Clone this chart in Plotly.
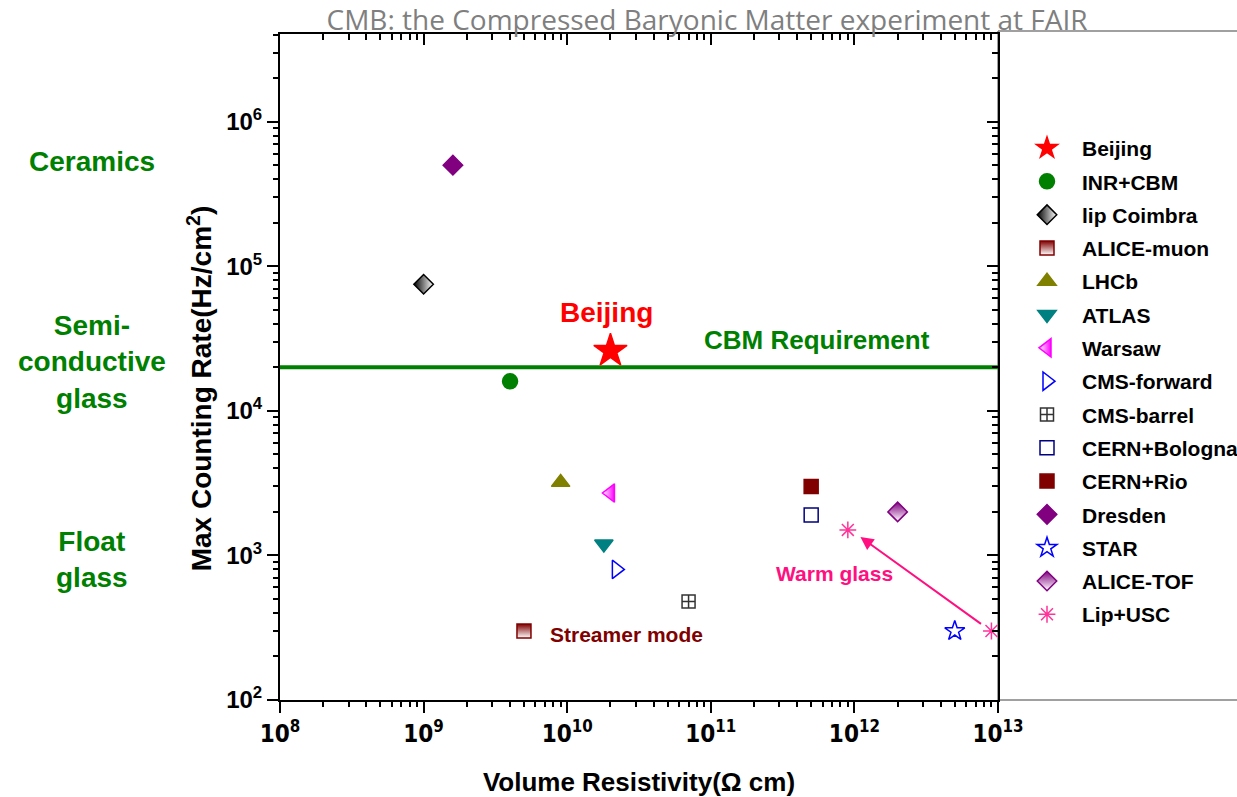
import math
import plotly.graph_objects as go

# ---------------- data ----------------
names = ["Beijing", "INR+CBM", "lip Coimbra", "ALICE-muon", "LHCb", "ATLAS", "Warsaw",
         "CMS-forward", "CMS-barrel", "CERN+Bologna", "CERN+Rio", "Dresden", "STAR",
         "ALICE-TOF", "Lip+USC"]
resistivity = [[2e10], [4e9], [1e9], [5e9], [9e9], [1.8e10], [2e10],
               [2.2e10], [7e10], [5e11], [5e11], [1.6e9], [5e12],
               [2e12], [9e11, 9e12]]
rate = [[2.6e4], [1.6e4], [7.5e4], [300], [3.2e3], [1.2e3], [2.7e3],
        [800], [480], [1.9e3], [3e3], [5e5], [300],
        [2e3], [1.5e3, 300]]

cbm_req_x = [1e8, 1e13]
cbm_req_y = [2e4, 2e4]

x_tickvals = [1e8, 1e9, 1e10, 1e11, 1e12, 1e13]
x_ticktext = ["10<sup>8</sup>", "10<sup>9</sup>", "10<sup>10</sup>", "10<sup>11</sup>",
              "10<sup>12</sup>", "10<sup>13</sup>"]
y_tickvals = [1e2, 1e3, 1e4, 1e5, 1e6]
y_ticktext = ["10<sup>2</sup>", "10<sup>3</sup>", "10<sup>4</sup>", "10<sup>5</sup>", "10<sup>6</sup>"]

# ---------------- styles ----------------
symbols = ["star", "circle", "diamond", "square", "triangle-up", "triangle-down", "triangle-left",
           "triangle-right-open", "square-cross-open", "square-open", "square", "diamond", "star-open",
           "diamond", "asterisk-open"]
colors = ["#FF0000", "#008000", "#000000", "#800000", "#808000", "#008080", "#FF00FF",
          "#0000FF", "#333333", "#000080", "#800000", "#800080", "#0000FF",
          "#800080", "#FF3399"]
sizes = [25, 15, 15, 14, 16, 16, 16, 16, 13, 14, 14, 15, 15, 15, 14]
gradients = {
    "lip Coimbra": dict(type="horizontal", color="white"),
    "ALICE-muon": dict(type="vertical", color="white"),
    "Warsaw": dict(type="horizontal", color="#FF00FF"),
    "ALICE-TOF": dict(type="vertical", color="white"),
}
fill_override = {"Warsaw": "white"}

FONT = "Liberation Sans, Arial, sans-serif"
NARROW = "Liberation Sans Narrow, DejaVu Sans Condensed, Arial Narrow, sans-serif"

X_RANGE = [8, 13]          # decades of the log x axis
Y_RANGE = [2, 6.606]       # decades of the log y axis

fig = go.Figure()

fig.add_trace(go.Scatter(x=cbm_req_x, y=cbm_req_y, mode="lines",
                         line=dict(color="#008000", width=4),
                         showlegend=False, hoverinfo="skip"))

for i, n in enumerate(names):
    marker = dict(symbol=symbols[i], size=sizes[i], color=fill_override.get(n, colors[i]),
                  line=dict(color=colors[i], width=1.5))
    if n in gradients:
        marker["gradient"] = gradients[n]
    fig.add_trace(go.Scatter(x=resistivity[i], y=rate[i], mode="markers", name=n,
                             legendgroup=n, marker=marker))

# invisible anchors for the tick-only overlay axes (exponent space)
for k in (2, 3, 4):
    fig.add_trace(go.Scatter(x=[10], y=[4], xaxis=f"x{k}", yaxis=f"y{k}", mode="markers",
                             marker=dict(opacity=0), showlegend=False, hoverinfo="skip"))

def minor_exps(lo, hi):
    return [math.log10(k) + d for d in range(lo, hi) for k in range(2, 10)]

x_major_exps = [math.log10(v) for v in x_tickvals]
y_major_exps = [math.log10(v) for v in y_tickvals]

tick_axis = dict(type="linear", showgrid=False, zeroline=False, tickmode="array",
                 showticklabels=False, tickcolor="black")

fig.update_layout(
    width=1237, height=797,
    margin=dict(l=280, r=239, t=34, b=97, autoexpand=False),
    paper_bgcolor="white", plot_bgcolor="white",
    font=dict(family=FONT, color="black"),
    title=dict(text="CMB: the Compressed Baryonic Matter experiment at FAIR",
               font=dict(family="Open Sans, sans-serif", size=28, color="#7F7F7F"),
               x=0.5716, xanchor="center", y=0.975, yanchor="middle",
               xref="container", yref="container"),
    xaxis=dict(type="log", range=X_RANGE, showgrid=False, zeroline=False,
               showline=True, linecolor="black", linewidth=2,
               tickmode="array", tickvals=x_tickvals, ticktext=x_ticktext,
               ticks="outside", ticklen=11, tickwidth=2, tickcolor="black",
               tickfont=dict(family=NARROW, size=24, weight="bold"),
               title=dict(text="Volume Resistivity(Ω cm)",
                          font=dict(family=FONT, size=26, weight="bold"), standoff=28)),
    yaxis=dict(type="log", range=Y_RANGE, showgrid=False, zeroline=False,
               showline=True, linecolor="black", linewidth=2,
               tickmode="array", tickvals=y_tickvals, ticktext=y_ticktext,
               ticks="outside", ticklen=11, tickwidth=2, tickcolor="black",
               tickfont=dict(family=FONT, size=24, weight="bold")),
    # bottom / left minor ticks
    xaxis2=dict(**tick_axis, range=X_RANGE, overlaying="x", side="bottom", anchor="y",
                tickvals=minor_exps(8, 13), ticks="outside", ticklen=6, tickwidth=2),
    yaxis2=dict(**tick_axis, range=Y_RANGE, overlaying="y", side="left", anchor="x",
                tickvals=minor_exps(2, 7), ticks="outside", ticklen=6, tickwidth=2),
    # top / right major ticks + frame lines
    xaxis3=dict(**tick_axis, range=X_RANGE, overlaying="x", side="top", anchor="y",
                showline=True, linecolor="black", linewidth=2,
                tickvals=x_major_exps, ticks="inside", ticklen=11, tickwidth=2),
    yaxis3=dict(**tick_axis, range=Y_RANGE, overlaying="y", side="right", anchor="x",
                showline=True, linecolor="black", linewidth=2,
                tickvals=y_major_exps, ticks="inside", ticklen=11, tickwidth=2),
    # top / right minor ticks
    xaxis4=dict(**tick_axis, range=X_RANGE, overlaying="x", side="top", anchor="y",
                tickvals=minor_exps(8, 13), ticks="inside", ticklen=6, tickwidth=2),
    yaxis4=dict(**tick_axis, range=Y_RANGE, overlaying="y", side="right", anchor="x",
                tickvals=minor_exps(2, 7), ticks="inside", ticklen=6, tickwidth=2),
    legend=dict(x=1.0195, y=0.859, xanchor="left", yanchor="top",
                font=dict(family=FONT, size=21, weight="bold"),
                bgcolor="rgba(0,0,0,0)", tracegroupgap=3, itemsizing="trace",
                itemwidth=60),
    showlegend=True,
)

fig.add_annotation(text="<b>Max Counting Rate(Hz/cm<sup>2</sup>)</b>", xref="paper", yref="paper",
                   x=-0.1114, y=0.468, textangle=-90, showarrow=False,
                   xanchor="center", yanchor="middle",
                   font=dict(family=FONT, size=28, color="black"))

frame = dict(type="line", xref="paper", yref="paper", line=dict(color="#808080", width=1.5), layer="below")
fig.add_shape(**frame, x0=1.0, x1=1.34, y0=1.0045, y1=1.0045)
fig.add_shape(**frame, x0=1.0, x1=1.0, y0=0, y1=1.0045)
fig.add_shape(**frame, x0=1.0, x1=1.34, y0=0, y1=0)

for txt, yp in [("Ceramics", 0.808), ("Semi-<br>conductive<br>glass", 0.508), ("Float<br>glass", 0.211)]:
    fig.add_annotation(text=txt, xref="paper", yref="paper", x=-0.262, y=yp,
                       showarrow=False, xanchor="center", yanchor="middle",
                       font=dict(family=FONT, size=28, color="#008000", weight="bold"))

fig.add_annotation(text="Beijing", x=10.272, y=4.683, showarrow=False,
                   font=dict(family=FONT, size=28, color="#FF0000", weight="bold"))
fig.add_annotation(text="CBM Requirement", x=11.742, y=4.49, showarrow=False,
                   font=dict(family=FONT, size=26, color="#008000", weight="bold"))
fig.add_annotation(text="Warm glass", x=11.861, y=2.878, showarrow=False,
                   font=dict(family=FONT, size=21, color="#FF0F80", weight="bold"))
fig.add_annotation(text="Streamer mode", x=10.411, y=2.456, showarrow=False,
                   font=dict(family=FONT, size=21, color="#800000", weight="bold"))
fig.add_annotation(text="", x=12.042, y=3.127, ax=12.892, ay=2.519,
                   axref="x", ayref="y", showarrow=True, arrowhead=2, arrowsize=1.3,
                   arrowwidth=2, arrowcolor="#FF0F80")

fig.write_html("out.html")
